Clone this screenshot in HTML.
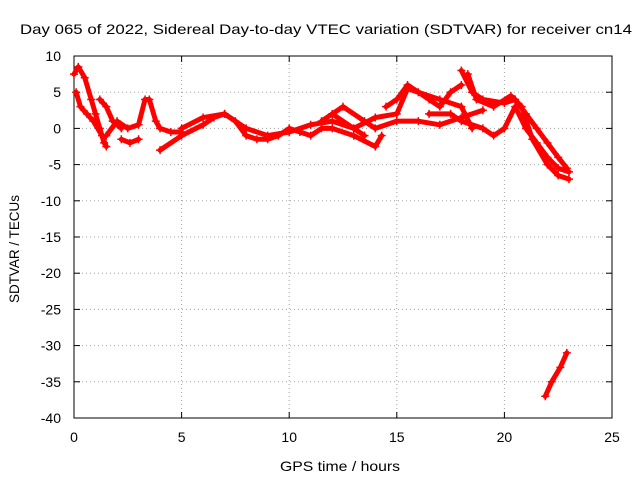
<!DOCTYPE html>
<html><head><meta charset="utf-8"><style>
body{margin:0;background:#fff;font-family:"Liberation Sans",sans-serif}
svg text{font-family:"Liberation Sans",sans-serif;font-size:14px;fill:#000}
</style></head><body>
<svg id="c" width="640" height="480"></svg>
<script>
const xTicks=[0,5,10,15,20,25];
const yTicks=[10,5,0,-5,-10,-15,-20,-25,-30,-35,-40];
const trackA=[[0,7.5],[0.2,8.5],[0.5,7],[0.8,4],[1,2],[1.2,0],[1.4,-2]];
const trackB=[[0.1,5],[0.3,3],[0.6,2],[0.9,1],[1.3,-1],[1.5,-2.5]];
const trackB2=[[1.2,4],[1.5,3],[1.8,1],[2.2,0]];
const trackC=[[1.5,-1],[2,1],[2.5,0],[3,0.5],[3.3,4],[3.5,4],[3.8,1],[4,0],[4.5,-0.5],[5,-0.5]];
const trackC2=[[2.2,-1.5],[2.6,-2],[3,-1.5]];
const trackD=[[4,-3],[5,-1],[6,0.5],[6.5,1.5],[7,2],[7.5,1],[8,-1],[8.5,-1.5],[9,-1.5],[9.5,-1],[10,0],[10.5,-0.5],[11,-1],[11.5,0],[12,0],[13,-1],[14,-2.5],[14.3,-1]];
const trackD2=[[5,0],[6,1.5],[7,2],[8,0],[9,-1],[10,-0.5],[11,0.5],[12,1],[13,0],[13.5,-1]];
const trackE=[[11.5,1],[12.5,3],[13.5,1],[14,0],[15,1],[16,1],[17,0.5],[18,1.5],[19,2.5]];
const trackF=[[12,2],[13,0],[14,1.5],[15,2],[15.5,5.5],[16,5],[17,4],[18,3],[18.5,0]];
const trackG=[[14.5,3],[15,4],[15.5,6],[16.5,4],[17,3],[17.5,5],[18,6]];
const trackH=[[16.5,2],[17.5,2],[18,1],[19,0],[19.5,-1],[20,0],[20.5,3],[21,0],[21.5,-2],[22,-4],[22.5,-5.5],[23,-6]];
const trackI=[[18,8],[18.5,5],[19,4],[20,3.5],[20.5,4],[21,2],[21.5,0],[22,-2],[22.5,-4],[22.9,-5.5]];
const trackJ=[[18.3,7.5],[18.7,4],[19.5,3],[20.3,4.5],[20.8,3],[21.3,-1.5],[22,-5],[22.5,-6.5],[23,-7]];
const trackK=[[21.9,-37],[22.2,-35],[22.6,-33],[22.9,-31]];
const tracks=[trackA,trackB,trackB2,trackC,trackC2,trackD,trackD2,trackE,trackF,trackG,trackH,trackI,trackJ,trackK];

const L=74,R=612,T=56,B=418;
const X=v=>L+(v-0)/(25-0)*(R-L);
const Y=v=>B-(v+40)/(50)*(B-T);
const svg=document.getElementById('c');
const NS='http://www.w3.org/2000/svg';
function mk(tag,attrs,parent){const e=document.createElementNS(NS,tag);for(const k in attrs)e.setAttribute(k,attrs[k]);(parent||svg).appendChild(e);return e;}

const grid=mk('g',{});


xTicks.forEach(t=>{
  if(t>0&&t<25){mk('line',{x1:X(t),x2:X(t),y1:T,y2:B,stroke:'#a0a0a0','stroke-dasharray':'1,3'},grid);}
  mk('line',{x1:X(t),x2:X(t),y1:B,y2:B-6,stroke:'#000'});
  mk('line',{x1:X(t),x2:X(t),y1:T,y2:T+6,stroke:'#000'});
  const tx=mk('text',{x:X(t),y:B+24,'text-anchor':'middle'});tx.textContent=t;
  
  
});
yTicks.forEach(t=>{
  if(t>-40&&t<10){mk('line',{x1:L,x2:R,y1:Y(t),y2:Y(t),stroke:'#a0a0a0','stroke-dasharray':'1,3'},grid);}
  mk('line',{x1:L,x2:L+6,y1:Y(t),y2:Y(t),stroke:'#000'});
  mk('line',{x1:R,x2:R-6,y1:Y(t),y2:Y(t),stroke:'#000'});
  const tx=mk('text',{x:L-13,y:Y(t)+5,'text-anchor':'end'});tx.textContent=t;
  
  
});
const frame=mk('rect',{x:L,y:T,width:R-L,height:B-T,fill:'none',stroke:'#000'});



const series=mk('g',{});


tracks.forEach(tr=>{
  const p=mk('polyline',{points:tr.map(d=>X(d[0])+','+Y(d[1])).join(' '),fill:'none',stroke:'#f00','stroke-width':5,'stroke-linejoin':'round','stroke-linecap':'round'},series);
  
  
  tr.forEach(d=>{
    const cx=X(d[0]),cy=Y(d[1]);
    mk('path',{d:`M${cx-4},${cy}H${cx+4}M${cx},${cy-4}V${cy+4}`,stroke:'#f00','stroke-width':1.5},series);
  });
});

const title=mk('text',{x:20,y:34,textLength:612,lengthAdjust:'spacingAndGlyphs'});
title.textContent='Day 065 of 2022, Sidereal Day-to-day VTEC variation (SDTVAR) for receiver cn14';


const xt=mk('text',{x:280,y:471,textLength:120,lengthAdjust:'spacingAndGlyphs'});
xt.textContent='GPS time / hours';


const yt=mk('text',{x:0,y:0,textLength:108,lengthAdjust:'spacingAndGlyphs',transform:'translate(19,303) rotate(-90)'});
yt.textContent='SDTVAR / TECUs';


</script>
</body></html>
